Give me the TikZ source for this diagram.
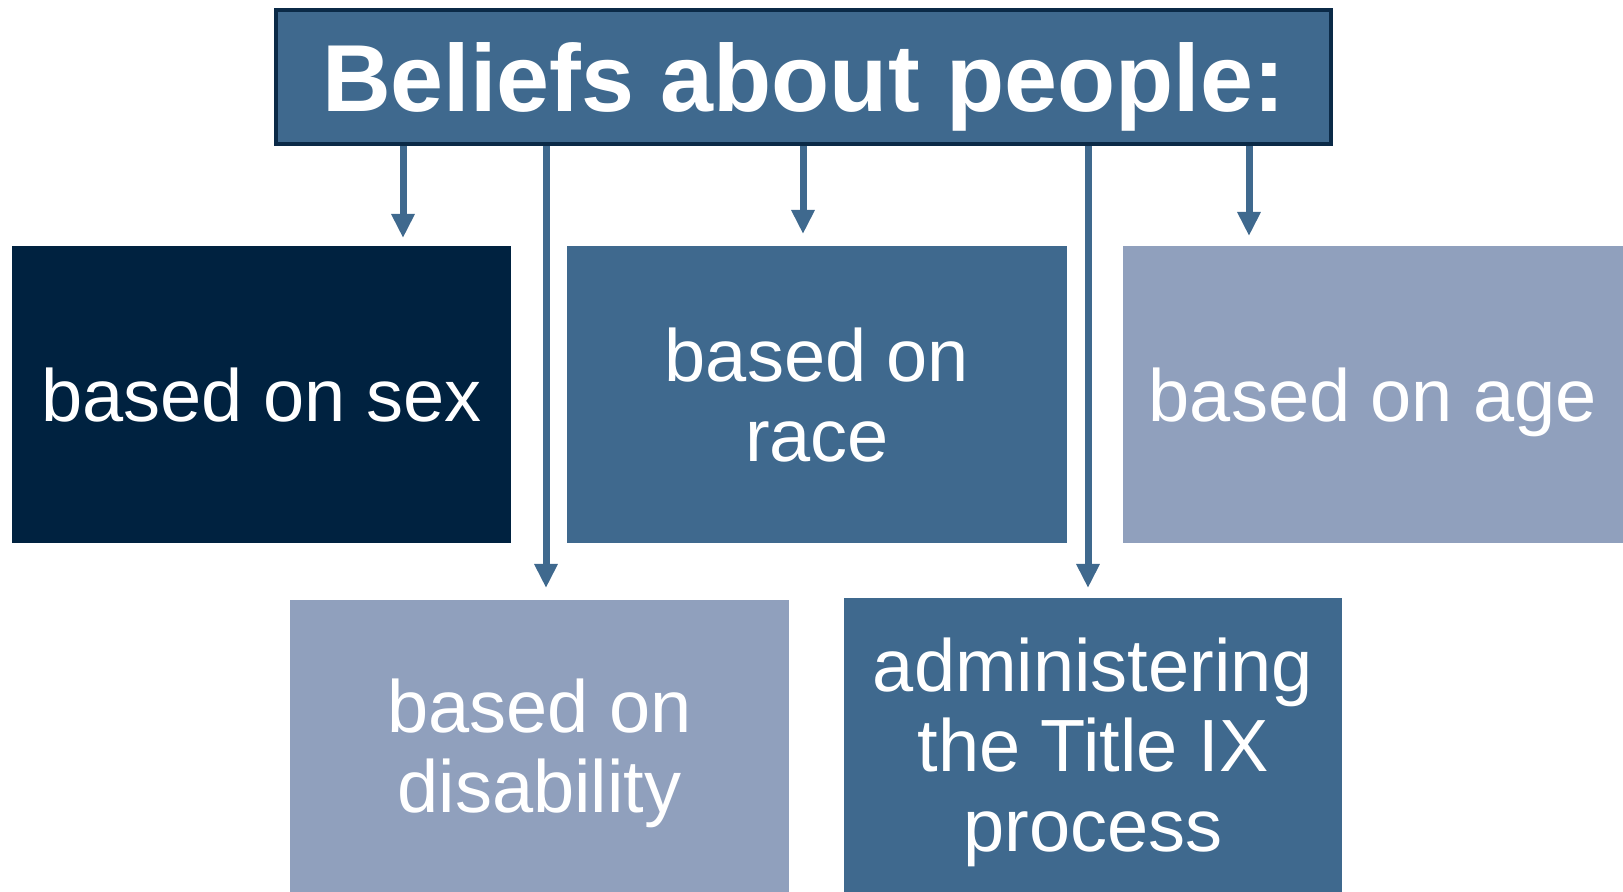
\documentclass[tikz,border=0pt]{standalone}
\usepackage{fontspec}
\setmainfont{Liberation Sans}
\usetikzlibrary{arrows.meta}
\definecolor{navy}{RGB}{0,34,64}
\definecolor{midblue}{RGB}{63,105,142}
\definecolor{lightblue}{RGB}{144,160,189}
\definecolor{borderblue}{RGB}{11,42,71}
\tikzset{
  box/.style={rectangle, inner sep=0pt, text=white, align=center,
    font=\fontsize{37}{40}\selectfont, text depth=0pt},
  titlebox/.style={rectangle, fill=midblue, draw=borderblue, line width=2pt,
    inner sep=0pt, text=white, font=\fontsize{47.6}{50}\selectfont\bfseries,
    text height=42pt, text depth=7pt},
  arr/.style={draw=midblue, line width=3.5pt,
    -{Triangle[width=11pt,length=12pt]}}
}
\begin{document}
\begin{tikzpicture}[x=0.5pt,y=-0.5pt]
\useasboundingbox (0,0) rectangle (1623,892);
\node[titlebox, minimum width=527.5pt, minimum height=67pt] (title) at (803.5,77) {Beliefs about people:};
\node[box, fill=navy, minimum width=249.5pt, minimum height=148.5pt] (sex) at (261.5,394.5) {based on sex};
\node[box, fill=midblue, minimum width=250pt, minimum height=148.5pt] (race) at (817,394.5) {based on\\race};
\node[box, fill=lightblue, minimum width=250pt, minimum height=148.5pt] (age) at (1373,394.5) {based on age};
\node[box, fill=lightblue, minimum width=249.5pt, minimum height=146pt] (dis) at (539.5,746) {based on\\disability};
\node[box, fill=midblue, minimum width=249pt, minimum height=147pt] (tix) at (1093,745) {administering\\the Title IX\\process};
\coordinate (e1) at (403,238);
\coordinate (e2) at (546,588);
\coordinate (e3) at (803,234);
\coordinate (e4) at (1088,588);
\coordinate (e5) at (1249,236);
\draw[arr] (title.south -| e1) -- (e1);
\draw[arr] (title.south -| e2) -- (e2);
\draw[arr] (title.south -| e3) -- (e3);
\draw[arr] (title.south -| e4) -- (e4);
\draw[arr] (title.south -| e5) -- (e5);
\end{tikzpicture}
\end{document}
